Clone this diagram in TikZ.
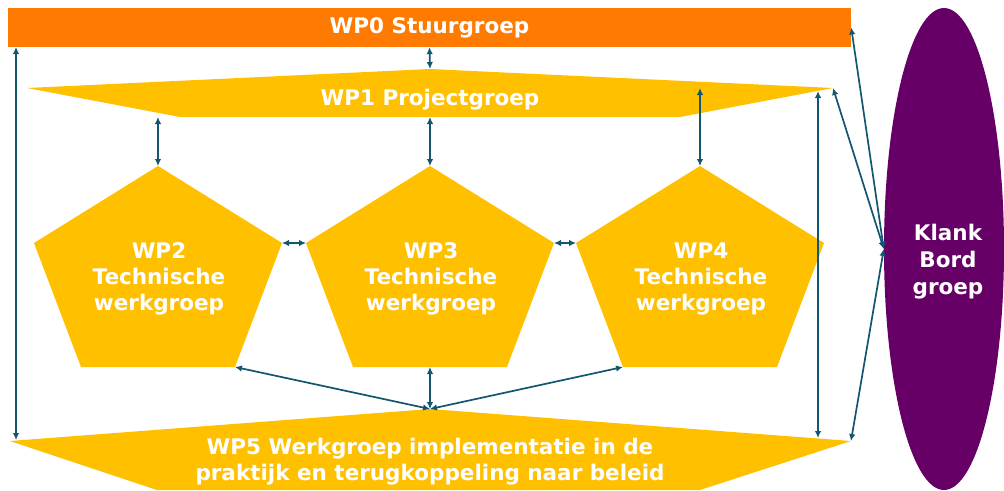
\documentclass[tikz,border=0pt]{standalone}
\usepackage{fontspec}
\setmainfont{DejaVu Sans}
\usetikzlibrary{arrows.meta,shapes.geometric}

\definecolor{stuur}{RGB}{255,122,0}
\definecolor{wpgeel}{RGB}{255,192,0}
\definecolor{klank}{RGB}{102,0,102}
\definecolor{pijl}{RGB}{18,86,114}

\tikzset{
	wptext/.style={text=white, font=\bfseries\fontsize{21.5}{26}\selectfont, align=center, inner sep=0pt},
	link/.style={pijl, line width=1.7pt, {Latex[length=7pt,width=6.5pt]}-{Latex[length=7pt,width=6.5pt]}}
}

% technische werkgroep: #1 name, #2 centre x, #3 text
\newcommand{\wpvijfhoek}[3]{
	\fill[wpgeel] (#2,166) -- (#2+124,243) -- (#2+77,367) -- (#2-77,367) -- (#2-124,243) -- cycle;
	\coordinate (#1-top) at (#2,166);
	\coordinate (#1-l) at (#2-124,243);
	\coordinate (#1-r) at (#2+124,243);
	\coordinate (#1-bl) at (#2-77,367);
	\coordinate (#1-br) at (#2+77,367);
	\coordinate (#1-bot) at (#2,367);
	\node[wptext] (#1) at (#2+1,279) {#3};
}

\begin{document}
\begin{tikzpicture}[x=1pt,y=-1pt]
		\useasboundingbox (0,0) rectangle (1004,490);
		\def\projectgroep{(27,88) -- (430,69) -- (833,88) -- (680,117) -- (180,117) -- cycle}
		\def\implementatie{(10,441) -- (430,409) -- (851,441) -- (700,490) -- (157,490) -- cycle}

		% stuurgroep
		\node[wptext, fill=stuur, minimum width=843pt, minimum height=39pt] (wp0) at (429.5,27.5) {WP0 Stuurgroep};

		% projectgroep en implementatie
		\fill[wpgeel] \projectgroep;
		\fill[wpgeel] \implementatie;
		\coordinate (wp1-t) at (430,69);
		\coordinate (wp1-r) at (833,88);
		\coordinate (wp1-bl) at (180,117);
		\coordinate (wp5-t) at (430,409);
		\coordinate (wp5-r) at (851,441);
		\node[wptext] (wp1) at (430,100) {WP1 Projectgroep};
		\node[wptext] (wp5) at (430,462) {WP5 Werkgroep implementatie in de\\praktijk en terugkoppeling naar beleid};

		\wpvijfhoek{wp2}{158}{WP2\\Technische\\werkgroep}
		\wpvijfhoek{wp3}{430}{WP3\\Technische\\werkgroep}
		\wpvijfhoek{wp4}{700}{WP4\\Technische\\werkgroep}

		% klankbordgroep
		\node[ellipse, fill=klank, minimum width=120pt, minimum height=482pt, inner sep=0pt] (klank) at (944,249) {};
		\node[wptext, font=\bfseries\fontsize{21.5}{27}\selectfont] (klanktekst) at (948,262) {Klank\\Bord\\groep};

		\coordinate (links-boven) at (16,47);
		\coordinate (links-onder) at (16,440);
		\coordinate (rechts-boven) at (818,91);
		\coordinate (rechts-onder) at (818,438);

		% verbindingen
		\draw[link] (wp0.south) -- (wp1-t);
		\draw[link] (wp2-top |- wp1-bl) -- (wp2-top);
		\draw[link] (wp3-top |- wp1-bl) -- (wp3-top);
		\draw[link] (wp4-top |- wp1-r) -- (wp4-top);
		\draw[link] (wp2-r) -- (wp3-l);
		\draw[link] (wp3-r) -- (wp4-l);
		\draw[link] (wp2-br) -- (wp5-t);
		\draw[link] (wp3-bot) -- (wp5-t);
		\draw[link] (wp4-bl) -- (wp5-t);
		\draw[link] (links-boven) -- (links-onder);
		\draw[link] (rechts-boven) -- (rechts-onder);
		\draw[link] (klank.west) -- (wp0.east);
		\draw[link] (klank.west) -- (wp1-r);
		\draw[link] (klank.west) -- (wp5-r);
	\end{tikzpicture}
\end{document}
